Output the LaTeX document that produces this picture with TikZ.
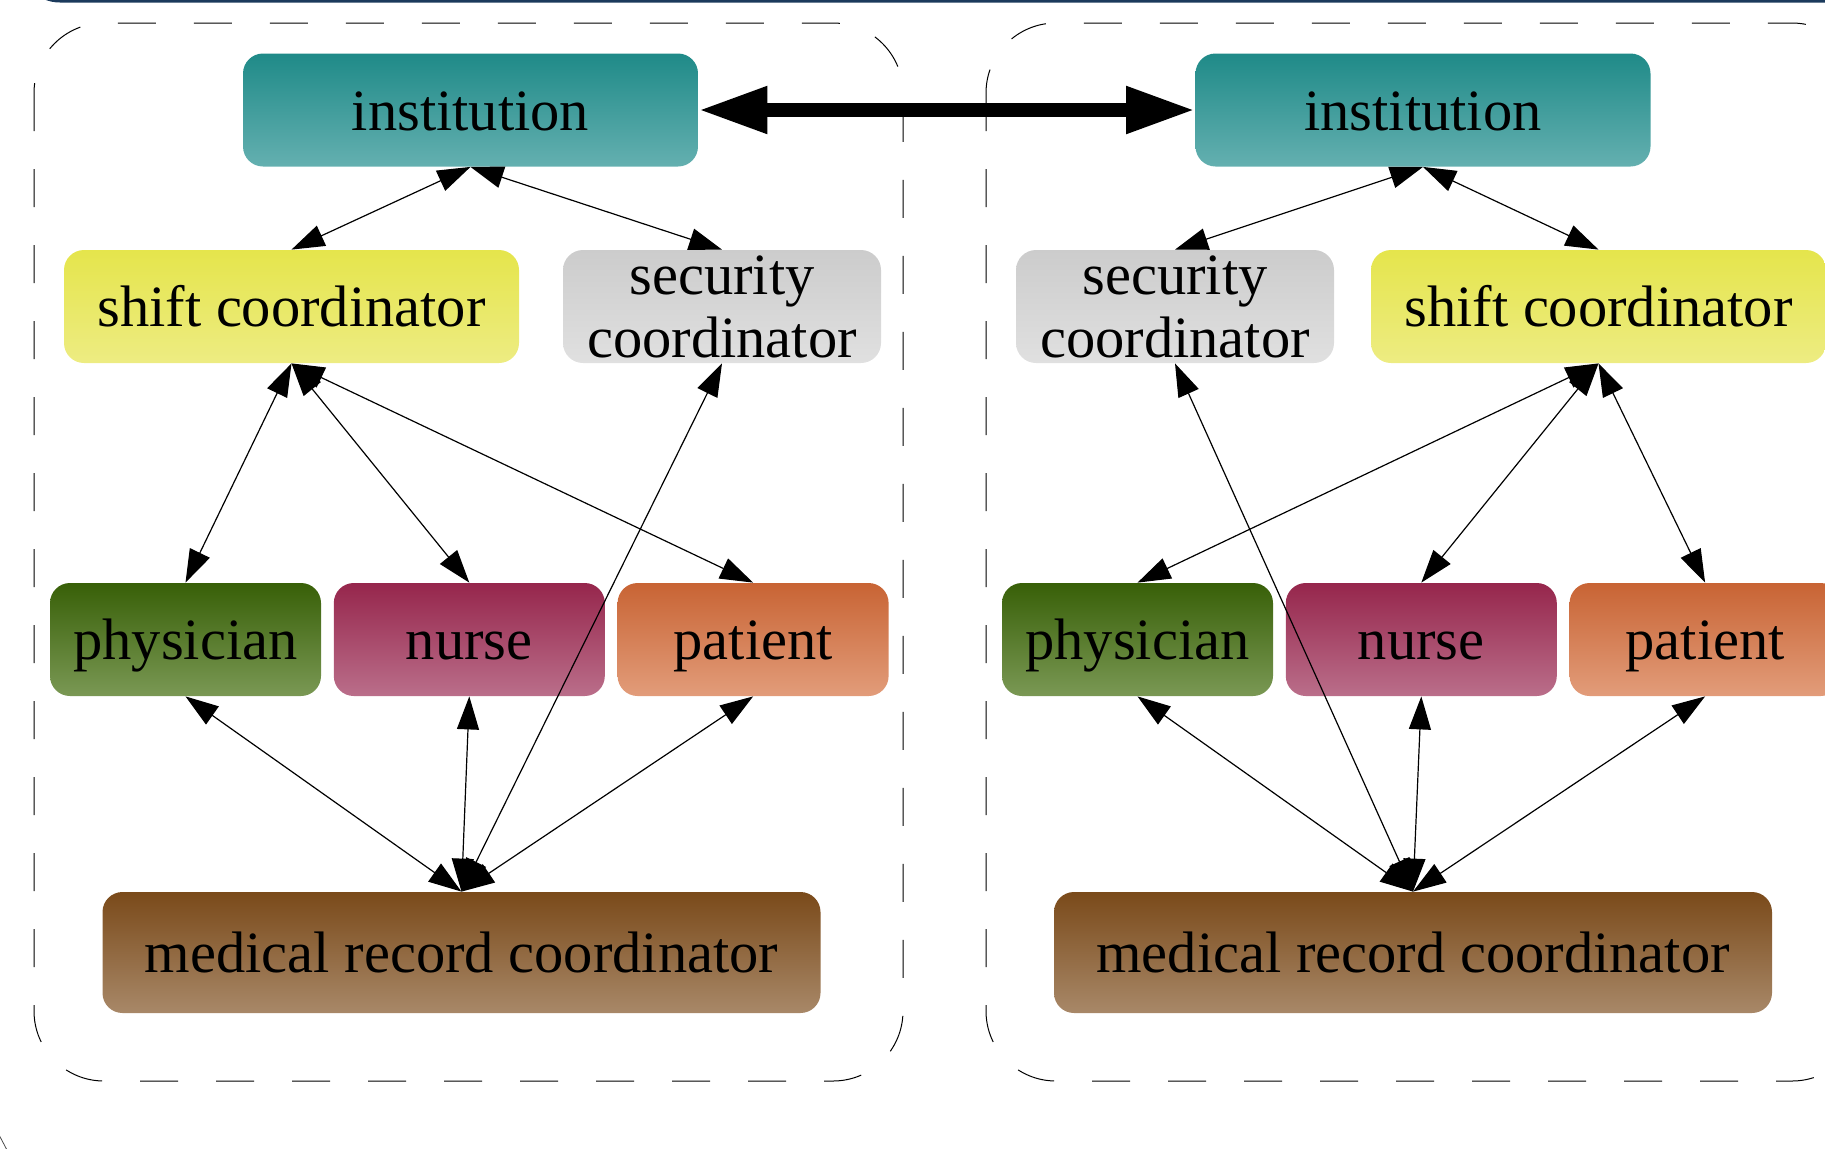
\documentclass[tikz,border=0pt]{standalone}
\usepackage{fontspec}
\setmainfont{Liberation Serif}
\usepackage{xcolor}
\usetikzlibrary{positioning,arrows.meta}
\definecolor{Navy}{HTML}{1B3A5C}
\definecolor{InstTop}{HTML}{1F8A88}
\definecolor{InstBot}{HTML}{64B0B0}
\definecolor{ShiftTop}{HTML}{E5E54C}
\definecolor{ShiftBot}{HTML}{EDEC82}
\definecolor{SecTop}{HTML}{CCCCCC}
\definecolor{SecBot}{HTML}{E0E0E0}
\definecolor{PhysTop}{HTML}{386008}
\definecolor{PhysBot}{HTML}{7A9854}
\definecolor{NurseTop}{HTML}{96264C}
\definecolor{NurseBot}{HTML}{BA6E8A}
\definecolor{PatTop}{HTML}{C86434}
\definecolor{PatBot}{HTML}{E29C7A}
\definecolor{RecTop}{HTML}{7A4A1A}
\definecolor{RecBot}{HTML}{A88868}

\begin{document}
\begin{tikzpicture}[x=.5pt,y=-.5pt,
  rolebox/.style={rounded corners=10pt,minimum height=56.5pt,inner sep=0pt,align=center,font=\fontsize{29.25}{31.5}\selectfont},
  oneline/.style={rolebox,text height=26.3pt,text depth=5.85pt},
  widebox/.style={oneline,minimum width=227.5pt},
  unitbox/.style={oneline,minimum width=135.5pt},
  secbox/.style={rolebox,minimum width=159pt,top color=SecTop,bottom color=SecBot},
  recbox/.style={oneline,minimum width=359pt,minimum height=60.5pt,top color=RecTop,bottom color=RecBot},
  cluster/.style={draw,line width=.5pt,dash pattern=on 19pt off 19pt,rounded corners=35pt},
  link/.style={{Triangle[length=16.5pt,width=11pt]}-{Triangle[length=16.5pt,width=11pt]},line width=.6pt},
  bridge/.style={{Triangle[length=34.5pt,width=22pt]}-{Triangle[length=34.5pt,width=22pt]},line width=7pt}]
\path[use as bounding box] (0,0) rectangle (1825,1148);
\clip (0,0) rectangle (1825,1148);

\draw[Navy,line width=1.5pt,rounded corners=20pt] (20,-60) |- (1900,1);
\draw[line width=.4pt,black!70] (-3,1131) -- (7,1150);

\draw[cluster] (34,23) rectangle (903,1081);
\draw[cluster] (986,23) rectangle (1862,1081);

% left hospital
\node[widebox,top color=InstTop,bottom color=InstBot] (Linst) at (470.5,110) {institution};
\node[widebox,top color=ShiftTop,bottom color=ShiftBot] (Lshift) at (291.5,306.5) {shift coordinator};
\node[secbox] (Lsec) at (722,306.5) {security\\coordinator};
\node[unitbox,top color=PhysTop,bottom color=PhysBot] (Lphys) at (185.5,639.5) {physician};
\node[unitbox,top color=NurseTop,bottom color=NurseBot,right=6pt of Lphys] (Lnurse) {nurse};
\node[unitbox,top color=PatTop,bottom color=PatBot,right=6pt of Lnurse] (Lpat) {patient};
\node[recbox] (Lrec) at (461.5,952.5) {medical record coordinator};

% right hospital
\node[widebox,top color=InstTop,bottom color=InstBot] (Rinst) at (1423,110) {institution};
\node[secbox] (Rsec) at (1175,306.5) {security\\coordinator};
\node[widebox,top color=ShiftTop,bottom color=ShiftBot] (Rshift) at (1598.5,306.5) {shift coordinator};
\node[unitbox,top color=PhysTop,bottom color=PhysBot] (Rphys) at (1137.5,639.5) {physician};
\node[unitbox,top color=NurseTop,bottom color=NurseBot,right=6pt of Rphys] (Rnurse) {nurse};
\node[unitbox,top color=PatTop,bottom color=PatBot,right=6pt of Rnurse] (Rpat) {patient};
\node[recbox] (Rrec) at (1413,952.5) {medical record coordinator};

\draw[bridge] (Linst.east) -- (Rinst.west);

\draw[link] (Linst.south) -- (Lshift.north);
\draw[link] (Linst.south) -- (Lsec.north);
\draw[link] (Lshift.south) -- (Lphys.north);
\draw[link] (Lshift.south) -- (Lnurse.north);
\draw[link] (Lshift.south) -- (Lpat.north);
\draw[link] (Lsec.south) -- (Lrec.north);
\draw[link] (Lphys.south) -- (Lrec.north);
\draw[link] (Lnurse.south) -- (Lrec.north);
\draw[link] (Lpat.south) -- (Lrec.north);

\draw[link] (Rinst.south) -- (Rsec.north);
\draw[link] (Rinst.south) -- (Rshift.north);
\draw[link] (Rshift.south) -- (Rphys.north);
\draw[link] (Rshift.south) -- (Rnurse.north);
\draw[link] (Rshift.south) -- (Rpat.north);
\draw[link] (Rsec.south) -- (Rrec.north);
\draw[link] (Rphys.south) -- (Rrec.north);
\draw[link] (Rnurse.south) -- (Rrec.north);
\draw[link] (Rpat.south) -- (Rrec.north);
\end{tikzpicture}
\end{document}
